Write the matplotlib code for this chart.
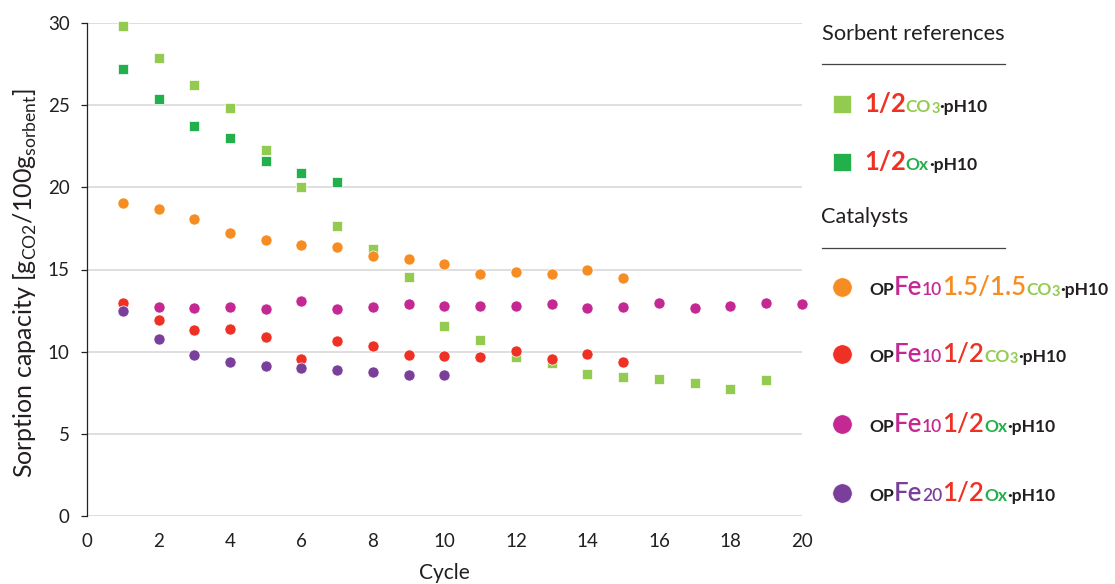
import matplotlib
matplotlib.use("Agg")
import matplotlib.pyplot as plt
from matplotlib.lines import Line2D

plt.rcParams['font.family'] = ['Lato', 'DejaVu Sans']
plt.rcParams['mathtext.fontset'] = 'custom'
plt.rcParams['mathtext.rm'] = 'Lato'

# ---------------- data ----------------
cyc_co3 = list(range(1, 20))
val_co3 = [29.8, 27.9, 26.2, 24.85, 22.3, 20.0, 17.65, 16.25, 14.55, 11.55,
           10.7, 9.65, 9.3, 8.65, 8.45, 8.35, 8.1, 7.75, 8.3]

cyc_ox = list(range(1, 8))
val_ox = [27.2, 25.4, 23.75, 23.0, 21.6, 20.9, 20.3]

cyc_fe10_15co3 = list(range(1, 16))
val_fe10_15co3 = [19.05, 18.67, 18.06, 17.25, 16.78, 16.5, 16.37, 15.85, 15.64,
                  15.35, 14.75, 14.82, 14.75, 14.95, 14.5]

cyc_fe10_12co3 = list(range(1, 16))
val_fe10_12co3 = [12.98, 11.95, 11.3, 11.36, 10.87, 9.54, 10.62, 10.35, 9.8,
                  9.75, 9.68, 10.07, 9.54, 9.88, 9.4]

cyc_fe10_12ox = list(range(2, 21))
val_fe10_12ox = [12.72, 12.64, 12.72, 12.58, 13.07, 12.58, 12.72, 12.9, 12.8,
                 12.8, 12.8, 12.92, 12.64, 12.72, 12.98, 12.64, 12.78, 12.98, 12.92]

cyc_fe20_12ox = list(range(1, 11))
val_fe20_12ox = [12.45, 10.75, 9.8, 9.38, 9.12, 8.98, 8.86, 8.74, 8.58, 8.55]

x_ticks = [0, 2, 4, 6, 8, 10, 12, 14, 16, 18, 20]
y_ticks = [0, 5, 10, 15, 20, 25, 30]

C_LGREEN = '#92CB4F'
C_DGREEN = '#21B04B'
C_ORANGE = '#F68D22'
C_RED = '#EE3124'
C_MAGENTA = '#C42892'
C_PURPLE = '#7A3F9A'
C_TEXT = '#231F20'

# ---------------- figure ----------------
W, H = 1115, 584
fig = plt.figure(figsize=(W / 100, H / 100), dpi=100)
ax = fig.add_axes([87 / W, 1 - 516 / H, (802 - 87) / W, (516 - 23) / H])

ax.set_xlim(0, 20)
ax.set_ylim(0, 30)
ax.set_xticks(x_ticks)
ax.set_yticks(y_ticks)
ax.grid(axis='y', color='#d9d9d9', linewidth=1.2, zorder=0)
ax.set_axisbelow(True)
for s in ['top', 'right', 'bottom']:
    ax.spines[s].set_visible(False)
ax.spines['left'].set_linewidth(0.9)
ax.spines['left'].set_color('#222222')
ax.tick_params(axis='x', length=0, pad=12, labelsize=13.5, labelcolor=C_TEXT)
ax.tick_params(axis='y', length=4.5, width=0.9, color='#222222', pad=8,
               labelsize=13.5, labelcolor=C_TEXT)

ms_sq = 7.8
ms_ci = 8.0
kw_sq = dict(linestyle='none', marker='s', markersize=ms_sq, markeredgecolor='white',
             markeredgewidth=0.5, clip_on=False)
kw_ci = dict(linestyle='none', marker='o', markersize=ms_ci, markeredgecolor='white',
             markeredgewidth=0.5, clip_on=False)

ax.plot(cyc_co3, val_co3, color=C_LGREEN, zorder=3, **kw_sq)
ax.plot(cyc_ox, val_ox, color=C_DGREEN, zorder=3, **kw_sq)
ax.plot(cyc_fe10_15co3, val_fe10_15co3, color=C_ORANGE, zorder=4, **kw_ci)
ax.plot(cyc_fe10_12ox, val_fe10_12ox, color=C_MAGENTA, zorder=4, **kw_ci)
ax.plot(cyc_fe10_12co3, val_fe10_12co3, color=C_RED, zorder=5, **kw_ci)
ax.plot(cyc_fe20_12ox, val_fe20_12ox, color=C_PURPLE, zorder=6, **kw_ci)

# axis labels
fig.text(25 / W, 1 - 283 / H,
         r'Sorption capacity [g$_{\mathregular{CO2}}$/100g$_{\mathregular{sorbent}}$]',
         rotation=90, ha='center', va='center', fontsize=18, color=C_TEXT)
fig.text(444 / W, 1 - 573 / H, 'Cycle', ha='center', va='center', fontsize=15,
         color=C_TEXT)

# ---------------- custom legend ----------------
fig.canvas.draw()
renderer = fig.canvas.get_renderer()


def px(x, y):
    return x / W, 1 - y / H


def pieces(x0, ybase, parts):
    x = x0
    for txt, col, size, weight, dy in parts:
        t = fig.text(*px(x, ybase - dy), txt, color=col, fontsize=size,
                     fontweight=weight, ha='left', va='baseline')
        bb = t.get_window_extent(renderer)
        x += bb.width


def hline(y, x0, x1):
    fig.add_artist(Line2D([x0 / W, x1 / W], [1 - y / H, 1 - y / H],
                          color='#444444', linewidth=0.9))


def marker(x, y, m, col, size):
    fig.add_artist(Line2D([x / W], [1 - y / H], marker=m, markersize=size,
                          color=col, linestyle='none', markeredgecolor='white',
                          markeredgewidth=0.5))


fig.text(*px(822, 40), 'Sorbent references', fontsize=15.7, color=C_TEXT,
         ha='left', va='baseline')
hline(64, 822, 1005)
fig.text(*px(821, 223), 'Catalysts', fontsize=15.7, color=C_TEXT,
         ha='left', va='baseline')
hline(248, 822, 1005)

BIG = 18.5
SMALL = 12.5
SUB = 10.5

marker(842, 104, 's', C_LGREEN, 13)
pieces(864, 112, [('1/2', C_RED, BIG, 'bold', 0),
                  ('CO', C_LGREEN, SMALL, 'bold', 0),
                  ('3', C_LGREEN, SUB, 'bold', -1),
                  ('·pH10', C_TEXT, SMALL, 'bold', 0)])
marker(842, 162, 's', C_DGREEN, 13)
pieces(864, 170, [('1/2', C_RED, BIG, 'bold', 0),
                  ('Ox', C_DGREEN, SMALL, 'bold', 0),
                  ('·pH10', C_TEXT, SMALL, 'bold', 0)])

rows = [
    (287, C_ORANGE, 'Fe', '10', C_MAGENTA, '1.5/1.5', C_ORANGE, 'CO', '3', C_LGREEN),
    (354, C_RED, 'Fe', '10', C_MAGENTA, '1/2', C_RED, 'CO', '3', C_LGREEN),
    (424, C_MAGENTA, 'Fe', '10', C_MAGENTA, '1/2', C_RED, 'Ox', '', C_DGREEN),
    (493, C_PURPLE, 'Fe', '20', C_PURPLE, '1/2', C_RED, 'Ox', '', C_DGREEN),
]
for y, mcol, fe, fen, fecol, ratio, rcol, an, ansub, acol in rows:
    marker(842, y, 'o', mcol, 14)
    parts = [('OP', C_TEXT, SMALL, 'bold', 0),
             (fe, fecol, BIG, 'semibold', 0),
             (fen, fecol, SMALL, 'semibold', 0),
             (ratio, rcol, BIG, 'semibold', 0),
             (an, acol, SMALL, 'bold', 0)]
    if ansub:
        parts.append((ansub, acol, SUB, 'bold', -1))
    parts.append(('·pH10', C_TEXT, SMALL, 'bold', 0))
    pieces(869, y + 8, parts)

fig.savefig('out.png', dpi=100)
